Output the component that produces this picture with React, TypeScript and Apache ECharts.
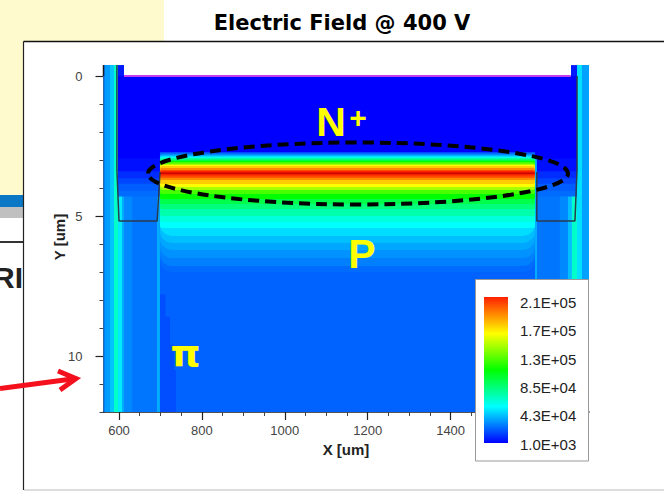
import React, { useEffect, useRef } from "react";
import * as echarts from "echarts";

const titleText = "Electric Field @ 400 V";
const xTickLabels = [600, 800, 1000, 1200, 1400];
const xMinorTicks = [650, 700, 750, 850, 900, 950, 1050, 1100, 1150, 1250, 1300, 1350, 1450];
const yTickLabels = [0, 5, 10];
const yMinorTicks = [1, 2, 3, 4, 6, 7, 8, 9, 11, 12];
const legendLabels = ["2.1E+05", "1.7E+05", "1.3E+05", "8.5E+04", "4.3E+04", "1.0E+03"];

// field value -> colour stops of the contour scale
const scaleValues = [1000, 53000, 105000, 158000, 210000, 230000];
const scaleColours = [[0, 0, 255], [0, 255, 255], [0, 255, 0], [255, 255, 0], [255, 32, 0], [176, 0, 0]];

// [xStart, xEnd, yStart, yEnd, |E|] in um, um, V/cm, painted in order
const sideBands = [
  [562.6, 566.2, -0.39, 12, 27000], [566.2, 578.3, -0.39, 12, 33000], [578.3, 587.9, -0.39, 12, 41000],
  [587.9, 597.6, -0.39, 12, 64000], [597.6, 607.2, -0.39, 12, 49000], [607.2, 612.1, -0.39, 12, 36000],
  [612.1, 631.4, 0, 12, 29000], [631.4, 691.7, 0, 12, 25000], [691.7, 698.9, 2.8, 12, 36000],
  [1603.6, 1608.4, 2.8, 12, 36000], [1608.4, 1663.9, 0, 12, 25000], [1663.9, 1683.2, 0, 12, 29000],
  [1683.2, 1692.8, 0, 12, 40000], [1692.8, 1704.9, 0, 12, 64000], [1704.9, 1717, -0.39, 12, 47000],
  [1717, 1733.9, -0.39, 12, 34000],
];
const pocketBands = [
  [597.6, 698.9, 0, 4.3, 23000], [1608.4, 1704.9, 0, 4.3, 23000],
  [597.6, 698.9, 0, 4.1, 20000], [1608.4, 1704.9, 0, 4.1, 20000],
  [597.6, 698.9, 0, 3.85, 15000], [1608.4, 1704.9, 0, 3.85, 15000],
  [597.6, 698.9, 0, 3.65, 10000], [1608.4, 1704.9, 0, 3.65, 10000],
  [597.6, 698.9, 0, 3.4, 4000], [1608.4, 1704.9, 0, 3.4, 4000],
  [597.6, 1704.9, 0, 2.95, 1000],
  [597.6, 612.1, -0.39, 0, 6000], [1690.4, 1704.9, -0.39, 0, 6000],
];
const bulkBands = [
  [698.9, 1603.6, 2.72, 12, 21000],
  [698.9, 712, 7.8, 12, 17000],
  [698.9, 723, 8.6, 12, 17000],
  [698.9, 733, 9.6, 12, 17000],
  [698.9, 737.5, 10.5, 12, 17000],
];
// nested contours of the junction: [yStart, yEnd, |E|]
const contourTop = [2.75, 2.79, 2.8, 2.82, 2.84, 2.86, 2.89, 2.91, 2.93, 2.96, 3.0, 3.04, 3.07, 3.13, 3.18, 3.21, 3.29, 3.36, 3.39, 3.45];
const contourBottom = [7.0, 6.79, 6.5, 6.21, 5.96, 5.71, 5.43, 5.21, 5.0, 4.75, 4.57, 4.39, 4.21, 4.07, 3.96, 3.86, 3.71, 3.63, 3.55, 3.5];
const contourValue = [23000, 27000, 31000, 35000, 40000, 46000, 53000, 60000, 70000, 80000, 90000, 105000, 120000, 140000, 158000, 170000, 185000, 200000, 210000, 225000];
const contourXStart = 698.9;
const contourXEnd = 1603.6;

// outline of the trenches and the top contact
const trenchLeftX = [595, 595, 600, 692, 699];
const trenchLeftY = [-0.39, 3.36, 5.18, 5.18, 3.43];
const trenchRightX = [1608, 1608, 1700, 1705, 1705];
const trenchRightY = [3.43, 5.18, 5.18, 3.36, 0];
const contactX = [612, 1690];
const contactY = [0, 0];
const edgeX = [562.6, 562.6];
const edgeY = [-0.39, 0];

const colourOf = (v: number) => {
  let i = 0;
  while (i < scaleValues.length - 2 && v > scaleValues[i + 1]) i++;
  const t = Math.min(1, Math.max(0, (v - scaleValues[i]) / (scaleValues[i + 1] - scaleValues[i])));
  const c = scaleColours[i].map((a, k) => Math.round(a + (scaleColours[i + 1][k] - a) * t));
  return `rgb(${c[0]},${c[1]},${c[2]})`;
};

const fieldCells = [
  ...sideBands.map((b) => [...b, 0]),
  ...pocketBands.map((b) => [...b, 0]),
  ...bulkBands.map((b) => [...b, 0]),
  ...contourValue.map((v, i) => [
    contourXStart,
    contourXEnd,
    contourTop[i],
    contourBottom[i],
    v,
    contourBottom[i] > 5.5 ? 12 : 2,
  ]),
];

const SANS = "'Liberation Sans', Arial, sans-serif";
const FG = 50;
const BG = -10;

export default function App() {
  const ref = useRef<HTMLDivElement>(null);
  useEffect(() => {
    const chart = echarts.init(ref.current!, undefined, { renderer: "svg" });
    const yellow = "#ffff00";
    const t = (text: string, x: number, y: number, size: number, fill: string, extra: any = {}, z = FG) => ({
      type: "text",
      z,
      x,
      y,
      rotation: extra.rotation || 0,
      style: {
        text,
        x: 0,
        y: 0,
        fill,
        fontSize: size,
        fontWeight: extra.weight || "normal",
        fontFamily: extra.family || SANS,
        textAlign: extra.align || "center",
        textVerticalAlign: "middle",
      },
    });
    const xBase = { type: "value", min: 562.6, max: 1733.9, position: "bottom", splitLine: { show: false } };
    const yBase = { type: "value", min: 0, max: 12, inverse: true, position: "left", splitLine: { show: false } };
    const option: any = {
      animation: false,
      backgroundColor: "#ffffff",
      grid: { left: 103.5, top: 76, width: 485.5, height: 336 },
      xAxis: [
        {
          ...xBase,
          axisLine: { onZero: false, lineStyle: { color: "#1a1a1a", width: 1.5 } },
          axisTick: { length: 8, lineStyle: { color: "#222", width: 1.2 }, customValues: xTickLabels },
          axisLabel: {
            customValues: xTickLabels,
            formatter: (v: number) => String(v),
            margin: 12,
            fontSize: 13,
            fontFamily: SANS,
            color: "#444",
          },
        },
        {
          ...xBase,
          axisLine: { show: false, onZero: false },
          axisTick: { length: 4, lineStyle: { color: "#444", width: 1 }, customValues: xMinorTicks },
          axisLabel: { show: false },
        },
      ],
      yAxis: [
        {
          ...yBase,
          axisLine: { onZero: false, lineStyle: { color: "#1a1a1a", width: 1.5 } },
          axisTick: { length: 8, lineStyle: { color: "#222", width: 1.2 }, customValues: yTickLabels },
          axisLabel: {
            customValues: yTickLabels,
            formatter: (v: number) => String(v),
            margin: 21,
            fontSize: 13,
            fontFamily: SANS,
            color: "#444",
          },
        },
        {
          ...yBase,
          axisLine: { show: false, onZero: false },
          axisTick: { length: 4, lineStyle: { color: "#444", width: 1 }, customValues: yMinorTicks },
          axisLabel: { show: false },
        },
      ],
      series: [
        {
          type: "custom",
          clip: false,
          z: 2,
          silent: true,
          data: fieldCells,
          renderItem: (_p: any, api: any) => {
            const a = api.coord([api.value(0), api.value(2)]);
            const b = api.coord([api.value(1), api.value(3)]);
            const r = api.value(5);
            return {
              type: "rect",
              shape: { x: a[0], y: a[1], width: b[0] - a[0], height: b[1] - a[1], r: r ? [2, 2, r, r] : 0 },
              style: { fill: colourOf(api.value(4)) },
            };
          },
        },
        ...[
          [trenchLeftX, trenchLeftY, "#2b3a4c", 1.5],
          [trenchRightX, trenchRightY, "#2b3a4c", 1.5],
          [contactX, contactY, "#c23cf0", 2],
          [edgeX, edgeY, "#1a1a1a", 1.5],
        ].map(([xs, ys, color, width]: any) => ({
          type: "line",
          z: 3,
          clip: false,
          silent: true,
          symbol: "none",
          lineStyle: { color, width },
          data: xs.map((x: number, i: number) => [x, ys[i]]),
        })),
      ],
      graphic: [
        { type: "rect", z: BG, shape: { x: 0, y: 0, width: 164, height: 195 }, style: { fill: "#fffacd" } },
        { type: "rect", z: BG, shape: { x: 0, y: 195, width: 24, height: 12 }, style: { fill: "#0a78c4" } },
        { type: "rect", z: BG, shape: { x: 0, y: 207, width: 24, height: 11 }, style: { fill: "#c0c0c0" } },
        { type: "rect", z: BG, shape: { x: 0, y: 241, width: 24, height: 2 }, style: { fill: "#333333" } },
        t("RI", 23, 277, 30, "#222222", { weight: "bold", align: "right" }, BG),
        { type: "rect", z: BG + 1, shape: { x: 23.5, y: 41.5, width: 660, height: 448 }, style: { fill: "#ffffff", stroke: "none" } },
        { type: "line", z: BG + 2, shape: { x1: 23.5, y1: 41.5, x2: 664, y2: 41.5 }, style: { stroke: "#111111", lineWidth: 1.5 } },
        { type: "line", z: BG + 2, shape: { x1: 23.5, y1: 41.5, x2: 23.5, y2: 490 }, style: { stroke: "#222222", lineWidth: 1.2 } },
        { type: "line", z: BG + 2, shape: { x1: 24, y1: 490, x2: 664, y2: 490 }, style: { stroke: "#bbbbbb", lineWidth: 1 } },
        t(titleText, 342, 23, 21, "#000000", { weight: "bold", family: "'DejaVu Sans', sans-serif" }),
        t("X [um]", 346, 449, 15, "#222222", { weight: "bold" }),
        t("Y [um]", 59, 237, 15, "#222222", { weight: "bold", rotation: Math.PI / 2 }),
        { type: "line", z: FG, shape: { x1: 0, y1: 388.5, x2: 76, y2: 378.5 }, style: { stroke: "#f4101c", lineWidth: 5 } },
        { type: "polyline", z: FG, shape: { points: [[58, 371], [76, 378.5], [60, 390]] }, style: { stroke: "#f4101c", lineWidth: 5, fill: "none" } },
        {
          type: "ellipse",
          z: FG,
          shape: { cx: 358, cy: 173.5, rx: 210, ry: 31 },
          style: { fill: "none", stroke: "#000000", lineWidth: 4, lineDash: [11, 6] },
        },
        t("N", 331, 122, 41, yellow, { weight: "bold" }),
        t("+", 358, 117, 30, yellow, { weight: "bold" }),
        t("P", 362, 254, 41, yellow, { weight: "bold" }),
        t("π", 185.5, 353, 38, yellow, { weight: "bold", family: "'DejaVu Sans', sans-serif" }),
        { type: "rect", z: FG, shape: { x: 475.5, y: 279.5, width: 113, height: 181.5 }, style: { fill: "#ffffff", stroke: "#999999", lineWidth: 1 } },
        {
          type: "rect",
          z: FG + 1,
          shape: { x: 484, y: 297, width: 24, height: 146 },
          style: {
            fill: new echarts.graphic.LinearGradient(0, 0, 0, 1, [
              { offset: 0, color: colourOf(210000) },
              { offset: 0.25, color: colourOf(158000) },
              { offset: 0.5, color: colourOf(105000) },
              { offset: 0.75, color: colourOf(53000) },
              { offset: 1, color: colourOf(1000) },
            ]),
          },
        },
        ...legendLabels.map((s, i) => t(s, 520, 302.3 + i * 28.4, 15, "#222222", { align: "left" }, FG + 1)),
      ],
    };
    chart.setOption(option);
    return () => chart.dispose();
  }, []);
  return <div ref={ref} style={{ position: "fixed", left: 0, top: 0, width: 664, height: 491 }} />;
}
